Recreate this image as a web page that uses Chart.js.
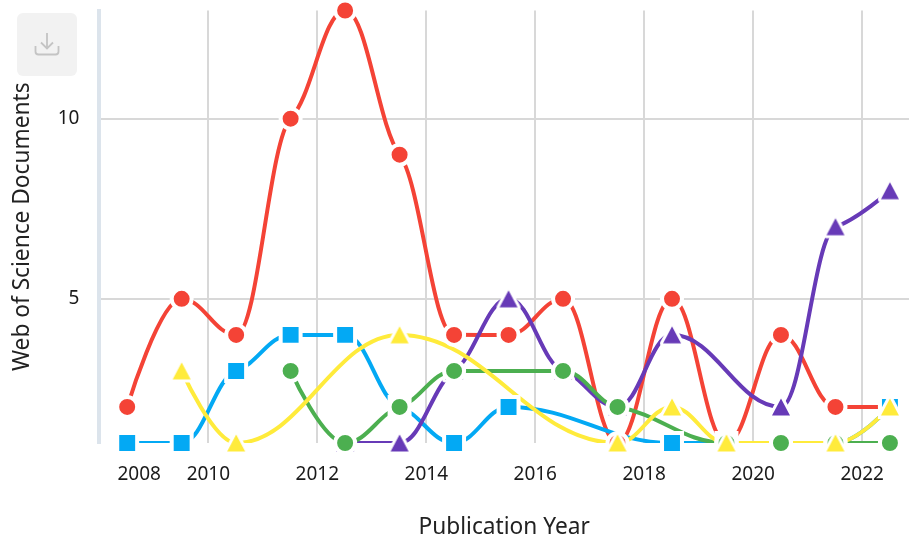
<!DOCTYPE html>
<html>
<head>
<meta charset="utf-8">
<title>Publications by year</title>
<script src="https://cdn.jsdelivr.net/npm/chart.js@4"></script>
<style>
  html, body { margin: 0; padding: 0; background: #fff; }
  #wrap { position: relative; width: 909px; height: 536px; overflow: hidden; }
  #downloadBtn {
    position: absolute; left: 17px; top: 13px; width: 60px; height: 63px;
    background: #f2f2f2; border-radius: 6px; z-index: 2;
  }
  #downloadBtn svg { position: absolute; left: 17px; top: 18px; }
</style>
</head>
<body>
<div id="wrap">
  <canvas id="trendChart" width="909" height="536"></canvas>
  <div id="downloadBtn">
    <svg width="26" height="26" viewBox="0 0 26 26" fill="none" stroke="#c4c4c4" stroke-width="1.8">
      <path d="M13 2v15M7 11.5l6 6 6-6"/>
      <path d="M1.5 15v5.5a3 3 0 0 0 3 3h17a3 3 0 0 0 3-3V15"/>
    </svg>
  </div>
</div>
<script>
const years = [2008, 2009, 2010, 2011, 2012, 2013, 2014, 2015, 2016, 2017, 2018, 2019, 2020, 2021, 2022];
const xTickYears = [2010, 2012, 2014, 2016, 2018, 2020, 2022];
const yTickValues = [5, 10];

const redValues    = [2, 5, 4, 10, 13, 9, 4, 4, 5, 1, 5, 1, 4, 2, 2];
const blueValues   = [1, 1, 3, 4, 4, 2, 1, 2, null, null, 1, 1, 1, 1, 2];
const purpleValues = [null, null, null, null, 1, 1, 3, 5, 3, 2, 4, null, 2, 7, 8];
const greenValues  = [null, null, null, 3, 1, 2, 3, null, 3, 2, null, 1, 1, 1, 1];
const yellowValues = [null, 3, 1, null, null, 4, null, null, null, 1, 2, 1, null, 1, 2];

const FONT = '"Noto Sans", sans-serif';
const FIRST_LABEL_AT = 2008.73; // the first label is pushed inside the plot

function triangleMarker(color) {
  const c = document.createElement('canvas');
  c.width = 30;
  c.height = 30;
  const g = c.getContext('2d');
  g.beginPath();
  g.moveTo(15, 6.5);
  g.lineTo(24, 23.5);
  g.lineTo(6, 23.5);
  g.closePath();
  g.lineJoin = 'round';
  g.lineWidth = 6;
  g.strokeStyle = '#fff';
  g.stroke();
  g.fillStyle = color;
  g.fill();
  return c;
}

const series = [
  { color: '#f44336', values: redValues, style: 'circle', radius: 10 },
  { color: '#03a9f4', values: blueValues, style: 'rect', radius: 14.1 },
  { color: '#673ab7', values: purpleValues, style: 'tri' },
  { color: '#4caf50', values: greenValues, style: 'circle', radius: 10 },
  { color: '#ffeb3b', values: yellowValues, style: 'tri' }
];

function toPoints(values) {
  return values.map((v, i) => ({ x: years[i] + 0.51, y: v }));
}

// lines go first, markers above all the lines; Chart.js paints index 0 last
const lineSets = series.map(s => ({
  data: toPoints(s.values),
  borderColor: s.color,
  borderWidth: 4,
  pointRadius: 0,
  spanGaps: true,
  cubicInterpolationMode: 'monotone',
  spline: true,
  clip: 0
}));
const markerSets = series.map(s => ({
  data: toPoints(s.values),
  showLine: false,
  pointStyle: s.style === 'tri' ? triangleMarker(s.color) : s.style,
  pointRadius: s.radius || 10,
  pointBackgroundColor: s.color,
  pointBorderColor: '#fff',
  pointBorderWidth: 4,
  clip: false
}));

// softer than the built-in monotone: flat at extremes, half the smaller slope elsewhere
const splinePlugin = {
  id: 'spline',
  afterDatasetsUpdate(chart) {
    chart.data.datasets.forEach((ds, d) => {
      if (!ds.spline) return;
      const meta = chart.getDatasetMeta(d);
      const pts = meta.data.filter(p => !p.skip);
      pts.forEach((p, i) => {
        const prev = pts[i - 1], next = pts[i + 1];
        if (!prev || !next) {
          p.cp1x = p.cp2x = p.x;
          p.cp1y = p.cp2y = p.y;
          return;
        }
        const s0 = (p.y - prev.y) / (p.x - prev.x);
        const s1 = (next.y - p.y) / (next.x - p.x);
        const m = s0 * s1 <= 0 ? 0 : Math.sign(s0) * 0.5 * Math.min(Math.abs(s0), Math.abs(s1));
        const back = 0.4 * (p.x - prev.x), ahead = 0.4 * (next.x - p.x);
        p.cp1x = p.x - back;
        p.cp1y = p.y - m * back;
        p.cp2x = p.x + ahead;
        p.cp2y = p.y + m * ahead;
      });
      meta.dataset._pointsUpdated = true;
    });
  }
};

const chart = new Chart(document.getElementById('trendChart').getContext('2d'), {
  type: 'line',
  data: { datasets: [...lineSets, ...markerSets].reverse() },
  plugins: [splinePlugin],
  options: {
    responsive: false,
    animation: false,
    events: [],
    layout: { autoPadding: false, padding: { top: 10.5, left: 0, right: 0, bottom: 0 } },
    plugins: { legend: { display: false }, tooltip: { enabled: false } },
    scales: {
      x: {
        type: 'linear',
        min: 2008,
        max: 2022.86,
        afterFit: scale => { scale.height = 93; },
        afterBuildTicks: scale => {
          scale.ticks = [FIRST_LABEL_AT, ...xTickYears].map(value => ({ value }));
        },
        grid: {
          drawTicks: false,
          lineWidth: 2,
          color: ctx => (ctx.tick && ctx.tick.value === FIRST_LABEL_AT ? 'transparent' : '#d8d8d8')
        },
        border: { display: false },
        ticks: {
          autoSkip: false,
          maxRotation: 0,
          padding: 20,
          color: '#1a1a1a',
          font: { family: FONT, size: 19 },
          callback: value => (value === FIRST_LABEL_AT ? '2008' : String(value))
        },
        title: {
          display: true,
          text: 'Publication Year',
          color: '#222',
          font: { family: FONT, size: 22.7 },
          padding: { top: 0, bottom: -5 }
        }
      },
      y: {
        min: 1,
        max: 13,
        afterFit: scale => {
          scale.width = 99.4;
          scale.paddingTop = 0;
          scale.paddingBottom = 0;
        },
        afterBuildTicks: scale => {
          scale.ticks = yTickValues.map(value => ({ value }));
        },
        grid: { drawTicks: false, lineWidth: 2, color: '#d8d8d8' },
        border: { display: true, color: '#dce4ec', width: 4 },
        ticks: {
          padding: 20,
          color: '#1a1a1a',
          font: { family: FONT, size: 19 }
        },
        title: {
          display: true,
          text: 'Web of Science Documents',
          color: '#222',
          font: { family: FONT, size: 22.7 },
          padding: { top: 9, bottom: 0 }
        }
      }
    }
  }
});
</script>
</body>
</html>
